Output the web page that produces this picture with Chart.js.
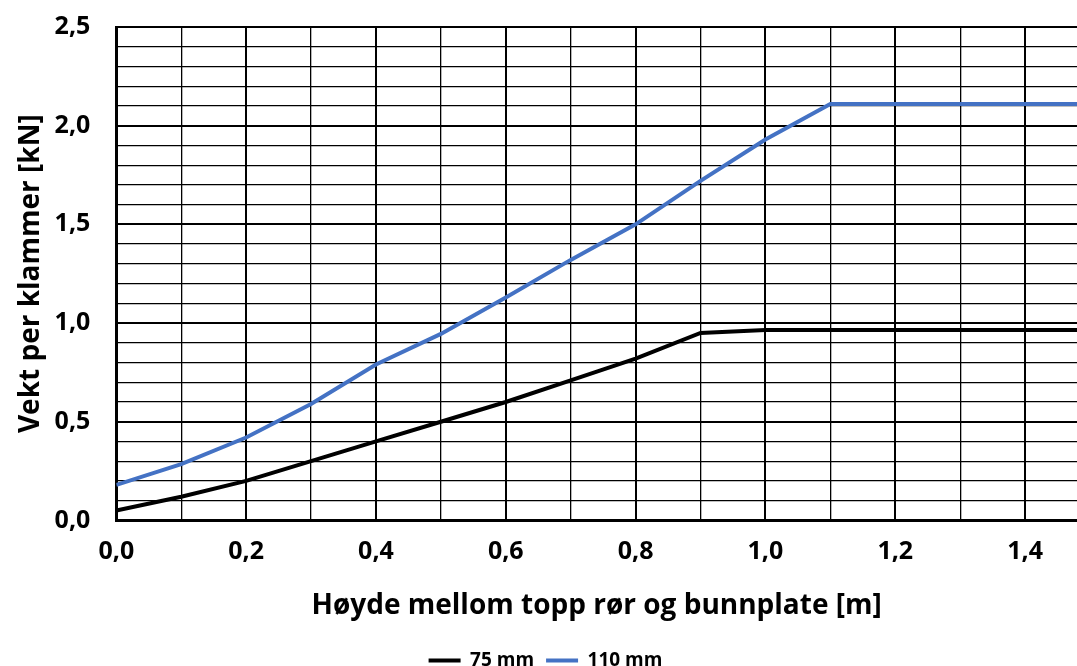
<!DOCTYPE html>
<html>
<head>
<meta charset="utf-8">
<script src="https://cdn.jsdelivr.net/npm/chart.js@4"></script>
<style>
  html, body { margin: 0; padding: 0; background: #fff; overflow: hidden; }
  #wrap { width: 1077px; height: 694px; margin-top: -14px; }
</style>
</head>
<body>
<div id="wrap"><canvas id="chart"></canvas></div>
<script>
// høyde (m) og vekt per klammer (kN), lest av figuren
const heights = [0, 0.1, 0.2, 0.3, 0.4, 0.5, 0.6, 0.7, 0.8, 0.9, 1.0, 1.1, 1.48];
const weight75 = [0.05, 0.12, 0.2, 0.3, 0.4, 0.5, 0.6, 0.71, 0.82, 0.95, 0.965, 0.965, 0.965];
const weight110 = [0.18, 0.285, 0.42, 0.59, 0.79, 0.945, 1.13, 1.32, 1.5, 1.72, 1.93, 2.11, 2.11];
const seriesNames = ['75 mm', '110 mm'];
const seriesColors = ['#000000', '#4472C4'];

const toPoints = (ys) => heights.map((x, i) => ({ x: x, y: ys[i] }));
const comma = (v) => v.toFixed(1).replace('.', ',');
const font = 'Open Sans';

const data = {
  datasets: [
    {
      label: seriesNames[0],
      data: toPoints(weight75),
      borderColor: seriesColors[0],
      backgroundColor: seriesColors[0],
      borderWidth: 4,
      pointRadius: 0,
      tension: 0,
    },
    {
      label: seriesNames[1],
      data: toPoints(weight110),
      borderColor: seriesColors[1],
      backgroundColor: seriesColors[1],
      borderWidth: 4,
      pointRadius: 0,
      tension: 0,
    },
  ],
};

const config = {
  type: 'line',
  data: data,
  options: {
    responsive: true,
    maintainAspectRatio: false,
    animation: false,
    layout: { padding: { left: 14, top: 0, right: 0, bottom: 0 } },
    plugins: {
      legend: {
        position: 'bottom',
        labels: {
          usePointStyle: true,
          pointStyle: 'line',
          pointStyleWidth: 32,
          color: '#000',
          font: { family: font, size: 19, weight: 'bold' },
          padding: 12,
        },
      },
      tooltip: { enabled: false },
    },
    scales: {
      x: {
        type: 'linear',
        min: 0,
        max: 1.48,
        border: { color: '#000', width: 3 },
        grid: {
          color: '#000',
          lineWidth: (ctx) => (Math.round(ctx.tick.value * 10) % 2 === 0 ? 2 : 1.3),
          drawTicks: false,
        },
        ticks: {
          stepSize: 0.1,
          includeBounds: false,
          maxRotation: 0,
          autoSkip: false,
          padding: 16,
          color: '#000',
          font: { family: font, size: 25, weight: 'bold' },
          callback: (v) => (Math.round(v * 10) % 2 === 0 ? comma(v) : ''),
        },
        title: {
          display: true,
          text: 'Høyde mellom topp rør og bunnplate [m]',
          color: '#000',
          font: { family: font, size: 28, weight: 'bold' },
          padding: { top: 7, bottom: 16 },
        },
      },
      y: {
        min: 0,
        max: 2.5,
        border: { color: '#000', width: 3 },
        grid: {
          color: '#000',
          lineWidth: (ctx) => (Math.round(ctx.tick.value * 10) % 5 === 0 ? 2 : 1.3),
          drawTicks: false,
        },
        ticks: {
          stepSize: 0.1,
          autoSkip: false,
          padding: 26,
          color: '#000',
          font: { family: font, size: 25, weight: 'bold' },
          callback: (v) => (Math.round(v * 10) % 5 === 0 ? comma(v) : ''),
        },
        title: {
          display: true,
          text: 'Vekt per klammer [kN]',
          color: '#000',
          font: { family: font, size: 28, weight: 'bold' },
          padding: { top: 0, bottom: -19 },
        },
      },
    },
  },
};

new Chart(document.getElementById('chart'), config);
</script>
</body>
</html>
